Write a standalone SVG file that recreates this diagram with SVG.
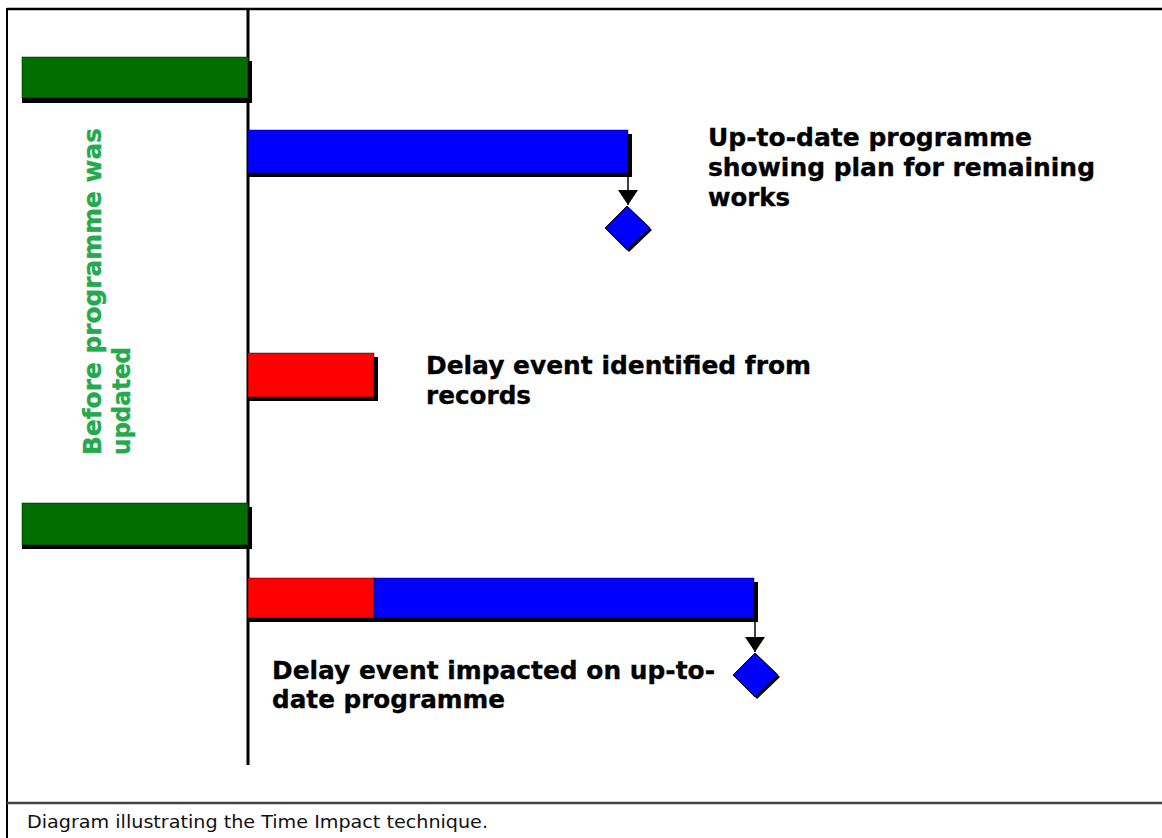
<svg xmlns="http://www.w3.org/2000/svg" width="1162" height="838" viewBox="0 0 1162 838">
  <style>
    .lbl { font-family: "DejaVu Sans", Verdana, sans-serif; font-weight: bold; font-size: 25px; fill: #000; stroke: #000; stroke-width: 0.35; }
    .side { font-family: "DejaVu Sans", Verdana, sans-serif; font-weight: bold; font-size: 25px; fill: #22aa4c; stroke: #22aa4c; stroke-width: 0.35; }
    .cap { font-family: "DejaVu Sans", Verdana, sans-serif; font-size: 17px; fill: #111; }
    .shadow { fill: #000; }
    .bar { stroke: #000; stroke-opacity: 0.45; stroke-width: 1; }
    .green { fill: #006f00; }
    .blue { fill: #0000ff; }
    .red { fill: #ff0000; }
    .conn { stroke: #000; stroke-width: 1.5; fill: none; }
  </style>
  <defs>
    <marker id="head" viewBox="0 0 15 20" refX="15" refY="10" markerWidth="15" markerHeight="20" markerUnits="userSpaceOnUse" orient="auto">
      <path d="M0,0 L15,10 L0,20 Z" fill="#000"/>
    </marker>
  </defs>

  <rect width="1162" height="838" fill="#fff"/>

  <!-- frame and caption strip -->
  <g id="frame">
    <line x1="7" y1="9" x2="1162" y2="9" stroke="#000" stroke-width="2.5"/>
    <line x1="7" y1="8" x2="7" y2="838" stroke="#000" stroke-width="2"/>
    <line x1="7" y1="803" x2="1162" y2="803" stroke="#444" stroke-width="2.5"/>
  </g>

  <!-- time axis (data date) -->
  <g id="axis">
    <line x1="248" y1="9" x2="248" y2="765" stroke="#000" stroke-width="3"/>
  </g>

  <g id="green-bar-1">
    <rect class="shadow" x="22" y="61" width="230" height="42"/>
    <rect class="bar green" x="22" y="57" width="226" height="41"/>
  </g>

  <g id="blue-bar-1">
    <rect class="shadow" x="248" y="134" width="384" height="43"/>
    <rect class="bar blue" x="248" y="130" width="380" height="43"/>
  </g>

  <g id="milestone-1">
    <polygon class="shadow" points="629,208 652,230 629,252 607,230"/>
    <polygon class="blue" points="627,206 650,228 627,250 605,228" stroke="#000" stroke-width="1"/>
  </g>

  <g id="red-bar-1">
    <rect class="shadow" x="248" y="357" width="130" height="44"/>
    <rect class="bar red" x="248" y="353" width="126" height="44"/>
  </g>

  <g id="green-bar-2">
    <rect class="shadow" x="22" y="507" width="230" height="42"/>
    <rect class="bar green" x="22" y="503" width="226" height="42"/>
  </g>

  <g id="impacted-bar">
    <rect class="shadow" x="248" y="582" width="510" height="40"/>
    <rect class="bar blue" x="374" y="578" width="380" height="40"/>
    <rect class="bar red" x="248" y="578" width="126" height="40"/>
  </g>

  <g id="milestone-2">
    <polygon class="shadow" points="757,655 780,677 757,699 735,677"/>
    <polygon class="blue" points="755,653 778,675 755,697 733,675" stroke="#000" stroke-width="1"/>
  </g>

  <g id="connectors">
    <line class="conn" x1="628" y1="173" x2="628" y2="205" marker-end="url(#head)"/>
    <line class="conn" x1="755" y1="618" x2="755" y2="652" marker-end="url(#head)"/>
  </g>

  <g id="labels">
    <text class="lbl" x="708" y="146" textLength="324" lengthAdjust="spacingAndGlyphs">Up-to-date programme</text>
    <text class="lbl" x="708" y="176" textLength="387" lengthAdjust="spacingAndGlyphs">showing plan for remaining</text>
    <text class="lbl" x="708" y="206" textLength="82" lengthAdjust="spacingAndGlyphs">works</text>

    <text class="lbl" x="426" y="374" textLength="385" lengthAdjust="spacingAndGlyphs">Delay event identified from</text>
    <text class="lbl" x="426" y="404" textLength="105" lengthAdjust="spacingAndGlyphs">records</text>

    <text class="lbl" x="272" y="679" textLength="443" lengthAdjust="spacingAndGlyphs">Delay event impacted on up-to-</text>
    <text class="lbl" x="272" y="708" textLength="233" lengthAdjust="spacingAndGlyphs">date programme</text>
  </g>

  <g id="side-label" transform="rotate(-90)">
    <text class="side" x="-455" y="101" textLength="327" lengthAdjust="spacingAndGlyphs">Before programme was</text>
    <text class="side" x="-455" y="130" textLength="108" lengthAdjust="spacingAndGlyphs">updated</text>
  </g>

  <text class="cap" x="27" y="828" textLength="461" lengthAdjust="spacingAndGlyphs">Diagram illustrating the Time Impact technique.</text>
</svg>
